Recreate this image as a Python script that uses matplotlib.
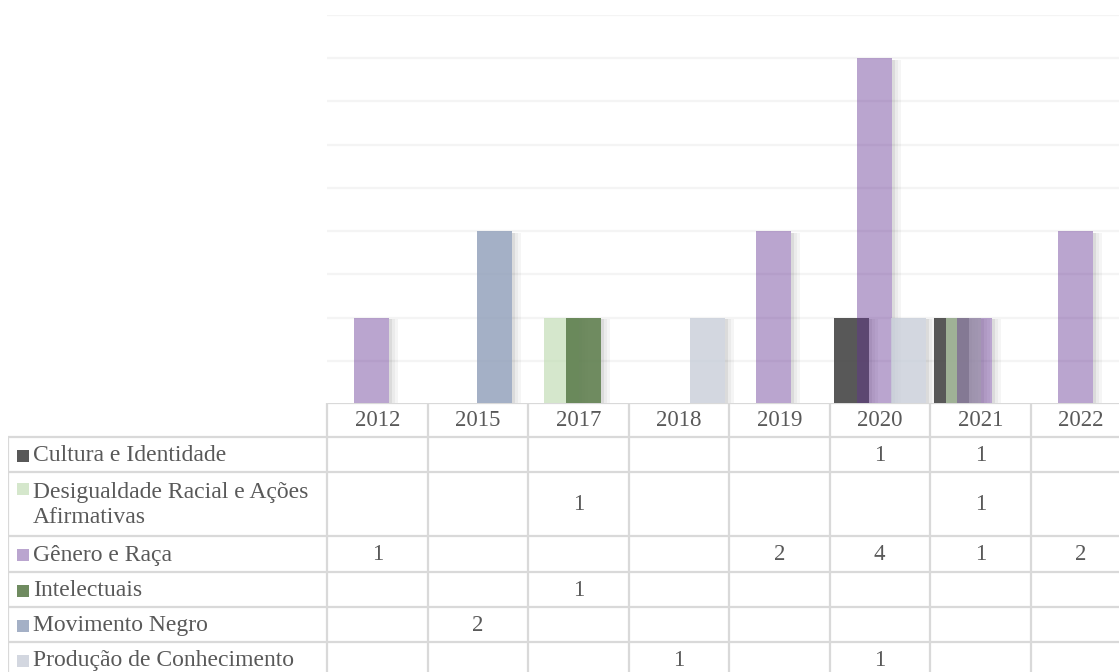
import matplotlib

matplotlib.use("Agg")
import matplotlib.pyplot as plt
import numpy as np

# data
years = ["2012", "2015", "2017", "2018", "2019", "2020", "2021", "2022"]
series_names = [
    "Cultura e Identidade",
    "Desigualdade Racial e Ações\nAfirmativas",
    "Gênero e Raça",
    "Intelectuais",
    "Movimento Negro",
    "Produção de Conhecimento",
]
cultura = [0, 0, 0, 0, 0, 1, 1, 0]
desigualdade = [0, 0, 1, 0, 0, 0, 1, 0]
genero = [1, 0, 0, 0, 2, 4, 1, 2]
intelectuais = [0, 0, 1, 0, 0, 0, 0, 0]
movimento = [0, 2, 0, 0, 0, 0, 0, 0]
producao = [0, 0, 0, 1, 0, 1, 0, 0]
values = [cultura, desigualdade, genero, intelectuais, movimento, producao]

# semi-transparent fills, like the Office style the chart came from
colors = [
    (0.23, 0.23, 0.23, 0.85),
    (0.757, 0.867, 0.706, 0.68),
    (0.388, 0.196, 0.573, 0.44),
    (0.373, 0.498, 0.310, 0.90),
    (0.557, 0.616, 0.722, 0.80),
    (0.784, 0.808, 0.851, 0.80),
]

W, H = 1119, 672
TXT = "#595959"
LINE = "#d9d9d9"
FONT = "Liberation Serif"

fig = plt.figure(figsize=(W / 100, H / 100), dpi=100)

# chart area (pixel layout of the reference, extends past right edge)
x0, x1 = 327, 1131
y_top, y_base = 15, 404
ax = fig.add_axes([x0 / W, (H - y_base) / H, (x1 - x0) / W, (y_base - y_top) / H])
ax.set_xlim(-0.5, len(years) - 0.5)
ax.set_ylim(0, 4.5)
ax.set_yticks(np.arange(0.5, 4.6, 0.5))
ax.grid(axis="y", color="#f4f4f4", linewidth=1.6, zorder=0)
ax.set_axisbelow(True)
ax.tick_params(left=False, bottom=False, labelleft=False, labelbottom=False)
for s in ax.spines.values():
    s.set_visible(False)

bar_w = 0.348
step = 0.1125
n = len(values)
x = np.arange(len(years))
unit = (x1 - x0) / len(years)  # pixels per category
sh_w = 3 / unit
for i, (vals, col) in enumerate(zip(values, colors)):
    offs = (i - (n - 1) / 2) * step
    for xi, v in zip(x, vals):
        if not v:
            continue
        ax.bar(xi + offs, v, width=bar_w, color=col, zorder=3 + i, linewidth=0)
        # soft drop shadow strip on the right side
        for k, a in enumerate((0.14, 0.08, 0.04)):
            ax.bar(xi + offs + bar_w / 2 + k * sh_w, v - 0.02, width=sh_w, bottom=0,
                   align="edge", color=(0, 0, 0, a), zorder=2, linewidth=0)

# data table below the chart
tab_left, tab_bottom, tab_top = 8, 677, 403
row_lines = [437, 472, 536, 572, 607, 642, 677]
ax_t = fig.add_axes([tab_left / W, (H - tab_bottom) / H, (x1 - tab_left) / W,
                     (tab_bottom - tab_top) / H])
xl = -0.5 - (x0 - tab_left) / unit
ax_t.set_xlim(xl, len(years) - 0.5)
ax_t.set_ylim(tab_bottom, tab_top)
ax_t.axis("off")

lw = 1.6
ax_t.hlines(tab_top, -0.5, len(years) - 0.5, color=LINE, lw=lw)
ax_t.hlines(row_lines[:-1], xl, len(years) - 0.5, color=LINE, lw=lw)
ax_t.vlines(xl, row_lines[0], tab_bottom, color=LINE, lw=lw)
ax_t.vlines(np.arange(len(years)) - 0.5, tab_top, tab_bottom, color=LINE, lw=lw)

for xi, yr in zip(x, years):
    ax_t.text(xi, (tab_top + row_lines[0]) / 2 + 1, yr, ha="center", va="center",
              color=TXT, fontsize=16.5, family=FONT)

mk_x = xl + 15 / unit
tx_x = xl + 25 / unit
for i, (name, vals, col) in enumerate(zip(series_names, values, colors)):
    r0, r1 = row_lines[i], row_lines[i + 1]
    yc = (r0 + r1) / 2 + 1
    first = yc if "\n" not in name else r0 + 17
    ax_t.plot(mk_x, first, marker="s", markersize=8, color=col, markeredgewidth=0)
    ax_t.text(tx_x, yc, name, ha="left", va="center", color=TXT, fontsize=17,
              family=FONT, linespacing=1.3)
    for xi, v in zip(x, vals):
        if v:
            ax_t.text(xi, yc, str(v), ha="center", va="center", color=TXT,
                      fontsize=16.5, family=FONT)

fig.savefig("out.png", dpi=100)
